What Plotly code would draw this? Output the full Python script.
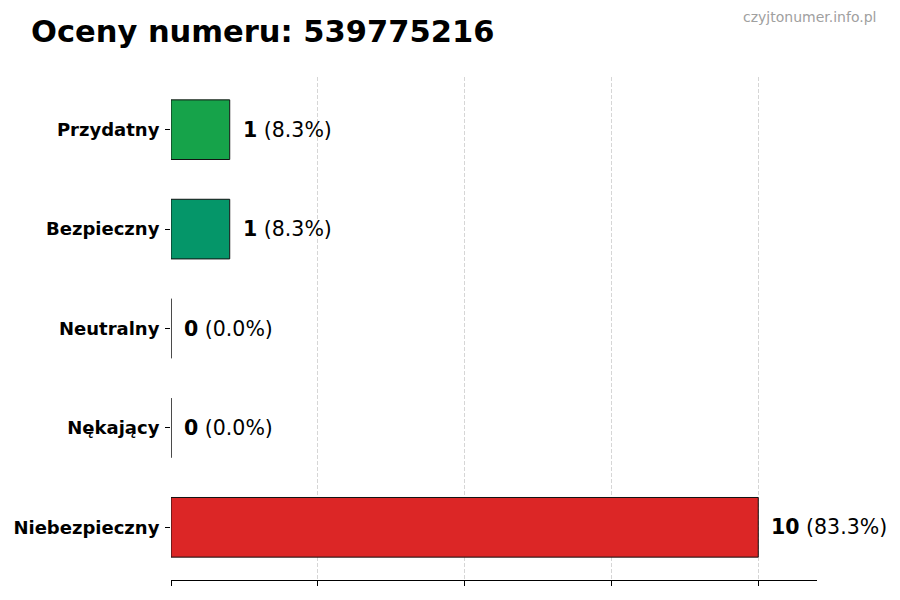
import plotly.graph_objects as go

categories = ['Niebezpieczny', 'Nękający', 'Neutralny', 'Bezpieczny', 'Przydatny']
counts = [10, 0, 0, 1, 1]
colors = ['#dc2626', '#ea580c', '#6b7280', '#059669', '#16a34a']
x_ticks = [0, 2.5, 5, 7.5, 10]

total = sum(counts)
FONT = 'DejaVu Sans'

fig = go.Figure()
fig.add_trace(go.Bar(
    y=categories, x=counts, orientation='h', width=0.6,
    marker=dict(color=colors, line=dict(color='#111111', width=1)),
    hoverinfo='skip', showlegend=False))

# value labels: bold count + share in brackets
for cat, val in zip(categories, counts):
    pct = 100 * val / total if total else 0
    fig.add_annotation(x=val, y=cat, xref='x', yref='y', xanchor='left', yanchor='middle',
                       xshift=11, showarrow=False,
                       text=f'<b>{val}</b> ({pct:.1f}%)',
                       font=dict(family=FONT, size=20.5, color='black'))

# page body has an 8px margin, so everything is placed 8px up/left
fig.add_annotation(x=(870 - 163) / 646, y=1 + (69 - 9) / 503, xref='paper', yref='paper',
                   xanchor='right', yanchor='middle',
                   showarrow=False, text='czyjtonumer.info.pl',
                   font=dict(family=FONT, size=14, color='#a0a0a0'))

fig.update_xaxes(range=[0, 11], tickvals=x_ticks, showticklabels=False,
                 showgrid=True, gridcolor='#d6d6d6', griddash='4px,2px', gridwidth=1,
                 zeroline=False, showline=True, linecolor='black', linewidth=1,
                 ticks='outside', ticklen=5, tickcolor='black', automargin=False)
fig.update_yaxes(range=[-0.53, 4.53], categoryorder='array', categoryarray=categories,
                 showgrid=False, zeroline=False, showline=False, automargin=False,
                 ticks='outside', ticklen=5, tickcolor='black', ticklabelstandoff=2,
                 tickfont=dict(family=FONT, size=18, color='black'))
fig.update_yaxes(ticktext=[f'<b>{c}</b>' for c in categories], tickvals=categories)

fig.update_layout(
    width=900, height=600,
    margin=dict(l=163, r=91, t=69, b=28),
    plot_bgcolor='white', paper_bgcolor='white',
    font=dict(family=FONT, color='black'),
    title=dict(text='<b>Oceny numeru: 539775216</b>', x=23 / 900, xanchor='left',
               y=1 - 23 / 600, yanchor='middle', font=dict(family=FONT, size=30.5, color='black')),
)

fig.write_html('out.html')
